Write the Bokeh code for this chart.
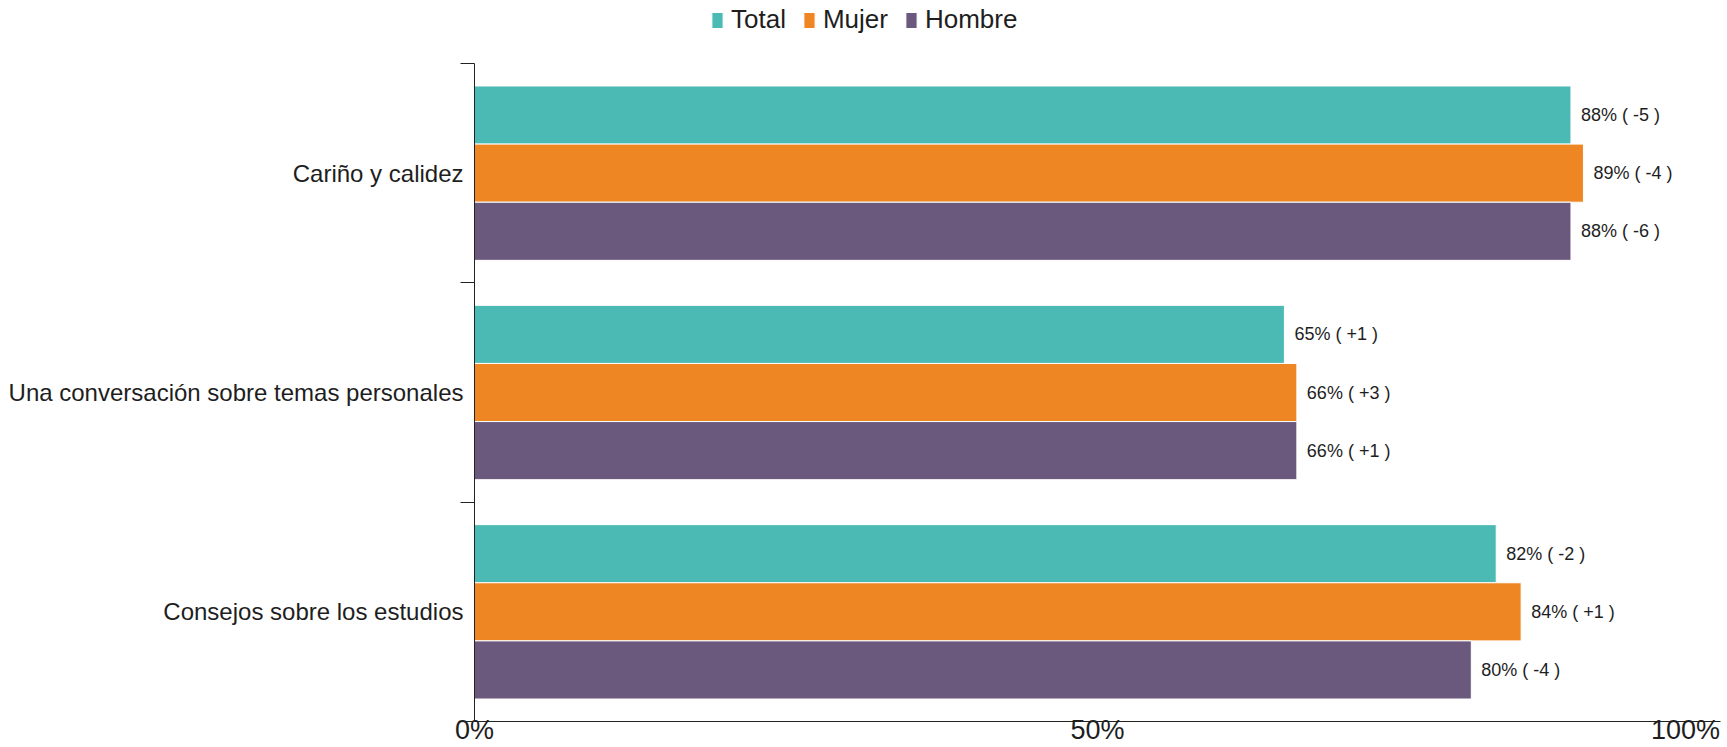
from bokeh.plotting import figure
from bokeh.layouts import column
from bokeh.models import ColumnDataSource, Range1d, FixedTicker, Legend, LegendItem, LabelSet
from bokeh.embed import file_html
from bokeh.resources import INLINE
from bokeh.core.properties import value

# ---- data ----
categories = ["Consejos sobre los estudios",
              "Una conversación sobre temas personales",
              "Cariño y calidez"]          # bottom -> top
series = ["Total", "Mujer", "Hombre"]
colors = ["#4BBAB5", "#EE8623", "#6A597C"]
total_vals = [82, 65, 88]
mujer_vals = [84, 66, 89]
hombre_vals = [80, 66, 88]
total_chg = [-2, 1, -5]
mujer_chg = [1, 3, -4]
hombre_chg = [-4, 1, -6]
x_ticks = [0, 50, 100]
x_tick_labels = ["0%", "50%", "100%"]

FONT = "Liberation Sans"
TXT = "#1E1E1E"
W, H = 1727, 747
LEG_H = 40

# ---- legend strip (its own small figure; frames are aligned by the column) ----
leg_fig = figure(width=W, height=LEG_H, output_backend="svg", toolbar_location=None,
                 x_range=Range1d(0, 1), y_range=Range1d(0, 1),
                 x_axis_type=None, y_axis_type=None,
                 min_border=0, min_border_left=0, min_border_right=0,
                 min_border_top=0, min_border_bottom=0)
leg_fig.outline_line_color = None
leg_fig.xgrid.visible = False
leg_fig.ygrid.visible = False
leg_items = []
for name, col in zip(series, colors):
    # a single off-range bar, only so the legend has a glyph to draw
    r = leg_fig.hbar(y=[-10], right=[1], left=0, height=0.1,
                     fill_color=col, line_color="white", line_width=1)
    leg_items.append(LegendItem(label=name, renderers=[r]))
legend = Legend(items=leg_items, orientation="horizontal", location=(236, 5),
                glyph_width=14, glyph_height=20, label_standoff=7, spacing=16,
                padding=0, margin=0, border_line_color=None, background_fill_alpha=0,
                label_text_font=FONT, label_text_font_size="26px", label_text_color=TXT)
leg_fig.add_layout(legend, "center")

# ---- main chart ----
p = figure(width=W, height=H - LEG_H, output_backend="svg", toolbar_location=None,
           x_range=Range1d(0, 100), y_range=Range1d(0.5, len(categories) + 0.5),
           min_border_left=474, min_border_right=7, min_border_top=63 - LEG_H,
           min_border_bottom=16)
p.outline_line_color = None
p.xgrid.visible = False
p.ygrid.visible = False
p.background_fill_color = "white"

bar_h = 0.265
offsets = [bar_h, 0.0, -bar_h]
vals_all = [total_vals, mujer_vals, hombre_vals]
chg_all = [total_chg, mujer_chg, hombre_chg]

for name, col, vals, chg, off in zip(series, colors, vals_all, chg_all, offsets):
    ys = [i + 1 + off for i in range(len(categories))]
    src = ColumnDataSource(dict(
        y=ys, right=vals,
        label=[f"{v}% ( {c:+d} )" for v, c in zip(vals, chg)]))
    p.hbar(y="y", right="right", left=0, height=bar_h, source=src,
           fill_color=col, line_color="white", line_width=1)
    p.add_layout(LabelSet(x="right", y="y", text="label", source=src,
                          x_offset=10, text_baseline="middle", text_align="left",
                          text_font=value(FONT), text_font_size="18px", text_color=TXT))

# y axis: labels at category centres, ticks at boundaries
yax = p.yaxis[0]
yax.ticker = FixedTicker(ticks=list(range(1, len(categories) + 1)),
                         minor_ticks=[i + 0.5 for i in range(len(categories) + 1)])
yax.major_label_overrides = {i + 1: c for i, c in enumerate(categories)}
yax.major_tick_out = 0
yax.major_tick_in = 0
yax.minor_tick_out = 14
yax.minor_tick_in = 0
yax.minor_tick_line_color = "#222222"
yax.axis_line_color = "#222222"
yax.major_label_standoff = -3
yax.major_label_text_font = FONT
yax.major_label_text_font_size = "24px"
yax.major_label_text_color = TXT

xax = p.xaxis[0]
xax.ticker = FixedTicker(ticks=x_ticks)
overrides = {t: lab for t, lab in zip(x_ticks, x_tick_labels)}
overrides[x_ticks[-1]] = x_tick_labels[-1] + "\u00a0"
xax.major_label_overrides = overrides
xax.major_tick_out = 0
xax.major_tick_in = 0
xax.minor_tick_out = 0
xax.minor_tick_in = 0
xax.axis_line_color = "#222222"
xax.major_label_standoff = -7
xax.major_label_text_font = FONT
xax.major_label_text_font_size = "27px"
xax.major_label_text_color = TXT

layout = column(leg_fig, p, spacing=0)
open("out.html", "w").write(file_html(layout, INLINE))
